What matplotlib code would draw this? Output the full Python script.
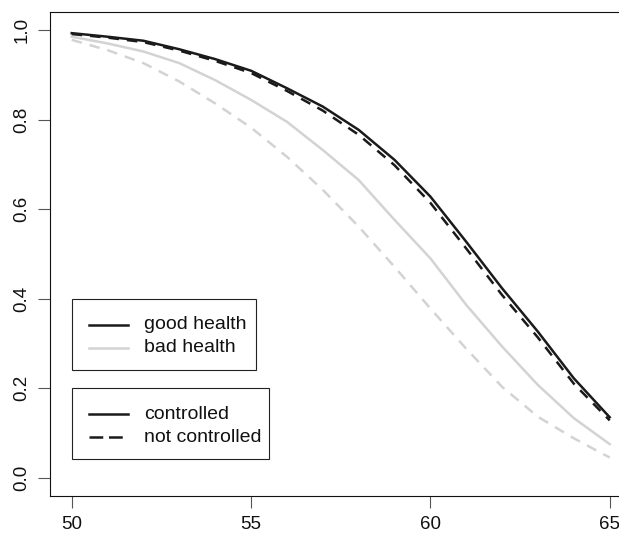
import matplotlib
matplotlib.use("Agg")
import matplotlib.pyplot as plt
import numpy as np
from matplotlib.patches import Rectangle
from matplotlib.lines import Line2D

plt.rcParams['font.family'] = ['Liberation Sans', 'DejaVu Sans']

age = [50, 51, 52, 53, 54, 55, 56, 57, 58, 59, 60, 61, 62, 63, 64, 65]
good_controlled = [0.993, 0.985, 0.976, 0.957, 0.935, 0.909, 0.870, 0.829, 0.777, 0.710,
                   0.628, 0.527, 0.423, 0.326, 0.222, 0.135]
good_not_controlled = [0.991, 0.983, 0.973, 0.954, 0.931, 0.904, 0.864, 0.820, 0.766, 0.698,
                       0.614, 0.512, 0.408, 0.313, 0.210, 0.128]
bad_controlled = [0.985, 0.970, 0.952, 0.926, 0.888, 0.844, 0.795, 0.732, 0.665, 0.576,
                  0.490, 0.386, 0.293, 0.207, 0.133, 0.075]
bad_not_controlled = [0.978, 0.955, 0.926, 0.885, 0.836, 0.782, 0.717, 0.643, 0.561, 0.471,
                      0.378, 0.288, 0.203, 0.136, 0.088, 0.045]

x_ticks = [50, 55, 60, 65]
y_ticks = [0.0, 0.2, 0.4, 0.6, 0.8, 1.0]
legend1_labels = ["good health", "bad health"]
legend2_labels = ["controlled", "not controlled"]

BLACK = "#1a1a1a"
GREY = "#d3d3d3"
LW = 1.8
DASH = (0, (4.2, 3.2))

# draw on a wider canvas (the original plot box runs past the right edge), then crop
W, H = 619, 534
WB = 660
fig = plt.figure(figsize=(WB / 100, H / 100), dpi=100)
ax_left, ax_right, ax_top, ax_bottom = 50.2, 631.2, 12.1, 495.6
ax = fig.add_axes([ax_left / WB, 1 - ax_bottom / H, (ax_right - ax_left) / WB, (ax_bottom - ax_top) / H])

ax.plot(age, bad_controlled, color=GREY, lw=LW, solid_joinstyle='round')
ax.plot(age, bad_not_controlled, color=GREY, lw=LW, linestyle=DASH)
ax.plot(age, good_controlled, color=BLACK, lw=LW, solid_joinstyle='round')
ax.plot(age, good_not_controlled, color=BLACK, lw=LW, linestyle=DASH)

ax.set_xlim(49.4, 65.6)
ax.set_ylim(-0.04, 1.04)
ax.set_xticks(x_ticks)
ax.set_xticklabels([str(t) for t in x_ticks])
ax.set_yticks(y_ticks)
ax.set_yticklabels([f"{t:.1f}" for t in y_ticks])
ax.tick_params(axis='both', direction='out', length=8.3, width=0.8, color='#555555',
               labelsize=13.5, labelcolor='#111111')
ax.tick_params(axis='x', pad=6.5)
ax.tick_params(axis='y', pad=6)
for lab in ax.get_yticklabels():
    lab.set_rotation(90)
    lab.set_va('center')
for s in ax.spines.values():
    s.set_linewidth(0.8)
    s.set_color('#111111')

# manual R-style legends (offsets in pixels from anchor at data point)
ax_w_px = ax_right - ax_left
ax_h_px = ax_bottom - ax_top
dxp = (65.6 - 49.4) / ax_w_px
dyp = (1.04 + 0.04) / ax_h_px


def r_legend(x0, y0, labels, colors, styles, box_w, box_h):
    ax.add_patch(Rectangle((x0, y0 - box_h * dyp), box_w * dxp, box_h * dyp,
                           fill=False, edgecolor='#222222', lw=0.8, zorder=5))
    for i, (lab, c, st) in enumerate(zip(labels, colors, styles)):
        yy = y0 - (26.0 + 23.3 * i) * dyp
        ax.add_line(Line2D([x0 + 17.6 * dxp, x0 + 56.0 * dxp], [yy, yy], color=c, lw=LW,
                           linestyle=st, zorder=6))
        ax.text(x0 + 72.6 * dxp, yy, lab, fontsize=14, va='center', ha='left',
                color='#111111', zorder=6)


r_legend(50, 0.4, legend1_labels, [BLACK, GREY], ['-', '-'], 184.3, 71.0)
r_legend(50, 0.2, legend2_labels, [BLACK, BLACK], ['-', (0, (5.5, 2.3))], 197.6, 71.3)

fig.canvas.draw()
img = np.asarray(fig.canvas.buffer_rgba())[:, :W, :].copy()
plt.imsave("out.png", img)
